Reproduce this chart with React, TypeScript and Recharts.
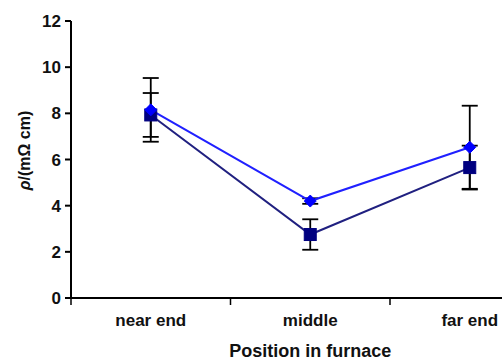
import React from 'react';
import { LineChart, Line, XAxis, YAxis, ErrorBar } from 'recharts';

const categories = ['near end', 'middle', 'far end'];
const categoryPositions = [0.5, 1.5, 2.5];
const seriesA = [8.15, 4.2, 6.53];
const errorA = [1.38, 0.12, 1.8];
const seriesB = [7.93, 2.75, 5.65];
const errorB = [0.95, 0.66, 0.95];
const yTicks = [0, 2, 4, 6, 8, 10, 12];
const xTicks = [0, 0.5, 1, 1.5, 2, 2.5, 3];

const data = categories.map((c, i) => ({
  name: c,
  x: categoryPositions[i],
  a: seriesA[i],
  ea: errorA[i],
  b: seriesB[i],
  eb: errorB[i],
}));

const FONT = '"Liberation Sans", Arial, sans-serif';

const XTick = (props: any) => {
  const { x, y, payload } = props;
  const v = payload.value;
  if (Number.isInteger(v)) {
    return <line x1={x} x2={x} y1={y - 8} y2={y - 1} stroke="#000" strokeWidth={1.5} />;
  }
  const idx = categoryPositions.indexOf(v);
  return (
    <text x={x} y={y + 20} textAnchor="middle" fontFamily={FONT} fontSize={17} fontWeight="bold" fill="#111">
      {categories[idx]}
    </text>
  );
};

const Diamond = (props: any) => {
  const { cx, cy } = props;
  if (cx == null || cy == null) return null;
  const r = 6;
  return <polygon points={`${cx},${cy - r} ${cx + r},${cy} ${cx},${cy + r} ${cx - r},${cy}`} fill="#0000ff" stroke="#0000ff" />;
};

const Square = (props: any) => {
  const { cx, cy } = props;
  if (cx == null || cy == null) return null;
  const s = 6;
  return <rect x={cx - s} y={cy - s} width={2 * s} height={2 * s} fill="#000080" stroke="#000080" />;
};

const YLabel = (props: any) => {
  const vb = props.viewBox;
  const cy = vb.y + vb.height / 2 - 9;
  const cx = 30;
  return (
    <text x={cx} y={cy} transform={`rotate(-90 ${cx} ${cy})`} textAnchor="middle" fontFamily={FONT} fontSize={16} fontWeight="bold" fill="#111">
      <tspan fontStyle="italic">ρ</tspan>/(mΩ cm)
    </text>
  );
};

export default function App() {
  return (
    <div style={{ position: 'absolute', left: 0, top: 0, width: 502, height: 361, overflow: 'hidden', background: '#fff' }}>
      <LineChart width={560} height={361} data={data} margin={{ top: 21, right: 10.5, bottom: 0, left: 0 }}>
        <XAxis
          dataKey="x"
          type="number"
          domain={[0, 3]}
          ticks={xTicks}
          tick={<XTick />}
          tickLine={false}
          tickSize={6}
          tickMargin={2}
          interval={0}
          height={63}
          stroke="#000"
          strokeWidth={2}
          label={{ value: 'Position in furnace', position: 'insideBottom', offset: 4, fontFamily: FONT, fontSize: 18, fontWeight: 'bold', fill: '#111' }}
        />
        <YAxis
          type="number"
          domain={[0, 12]}
          ticks={yTicks}
          interval={0}
          width={71}
          tickSize={6}
          tickMargin={4}
          stroke="#000"
          strokeWidth={2}
          tick={{ fontFamily: FONT, fontSize: 17, fontWeight: 'bold', fill: '#111' }}
          label={<YLabel />}
        />
        <Line dataKey="b" stroke="none" dot={false} activeDot={false} isAnimationActive={false}>
          <ErrorBar dataKey="eb" direction="y" width={8} stroke="#000" strokeWidth={1.8} />
        </Line>
        <Line dataKey="a" stroke="none" dot={false} activeDot={false} isAnimationActive={false}>
          <ErrorBar dataKey="ea" direction="y" width={8} stroke="#000" strokeWidth={1.8} />
        </Line>
        <Line dataKey="b" stroke="#202080" strokeWidth={2} dot={<Square />} isAnimationActive={false} />
        <Line dataKey="a" stroke="#2020ff" strokeWidth={2} dot={<Diamond />} isAnimationActive={false} />
      </LineChart>
    </div>
  );
}
